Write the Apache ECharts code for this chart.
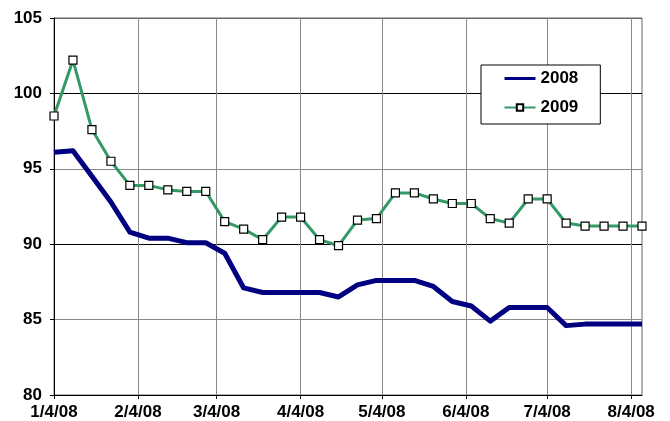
<!DOCTYPE html>
<html>
<head>
<meta charset="utf-8">
<script src="https://cdn.jsdelivr.net/npm/echarts@6/dist/echarts.min.js"></script>
<style>
  html, body { margin: 0; padding: 0; background: #fff; }
  #chart { width: 670px; height: 421px; }
</style>
</head>
<body>
<div id="chart"></div>
<script>
// Weekly observation dates (2008 calendar, Friday readings)
var weekDates = [
  '2008-01-04', '2008-01-11', '2008-01-18', '2008-01-25',
  '2008-02-01', '2008-02-08', '2008-02-15', '2008-02-22', '2008-02-29',
  '2008-03-07', '2008-03-14', '2008-03-21', '2008-03-28',
  '2008-04-04', '2008-04-11', '2008-04-18', '2008-04-25',
  '2008-05-02', '2008-05-09', '2008-05-16', '2008-05-23', '2008-05-30',
  '2008-06-06', '2008-06-13', '2008-06-20', '2008-06-27',
  '2008-07-04', '2008-07-11', '2008-07-18', '2008-07-25',
  '2008-08-01', '2008-08-08'
];

var values2008 = [
  96.1, 96.2, 94.5, 92.8, 90.8, 90.4, 90.4, 90.1, 90.1, 89.4, 87.1, 86.8,
  86.8, 86.8, 86.8, 86.5, 87.3, 87.6, 87.6, 87.6, 87.2, 86.2, 85.9, 84.9,
  85.8, 85.8, 85.8, 84.6, 84.7, 84.7, 84.7, 84.7
];

var values2009 = [
  98.5, 102.2, 97.6, 95.5, 93.9, 93.9, 93.6, 93.5, 93.5, 91.5, 91.0, 90.3,
  91.8, 91.8, 90.3, 89.9, 91.6, 91.7, 93.4, 93.4, 93.0, 92.7, 92.7, 91.7,
  91.4, 93.0, 93.0, 91.4, 91.2, 91.2, 91.2, 91.2
];

// Month ticks on the 4th of each month, with their labels
var monthTicks = [
  '2008-01-04', '2008-02-04', '2008-03-04', '2008-04-04',
  '2008-05-04', '2008-06-04', '2008-07-04', '2008-08-04'
];
var monthLabels = ['1/4/08', '2/4/08', '3/4/08', '4/4/08', '5/4/08', '6/4/08', '7/4/08', '8/4/08'];

var yTicks = [80, 85, 90, 95, 100, 105];

// Day offsets from the first observation, so the axis is linear in time
function dayNum(s) {
  var p = s.split('-');
  return Math.round((Date.UTC(+p[0], +p[1] - 1, +p[2]) - Date.UTC(2008, 0, 4)) / 86400000);
}

function pairs(vals) {
  return weekDates.map(function (d, i) { return [dayNum(d), vals[i]]; });
}

var tickDays = monthTicks.map(dayNum);

var labelFont = {
  color: '#000',
  fontFamily: '"Liberation Sans", Arial, sans-serif',
  fontWeight: 'bold',
  fontSize: 17
};

var chart = echarts.init(document.getElementById('chart'), null, { renderer: 'canvas' });

chart.setOption({
  animation: false,
  backgroundColor: '#fff',
  grid: {
    left: 54, right: 28, top: 18, bottom: 24,
    show: true, borderColor: '#666', borderWidth: 1
  },
  legend: {
    orient: 'vertical',
    left: 481, top: 65,
    backgroundColor: '#fff',
    borderColor: '#000',
    borderWidth: 1,
    borderRadius: 0,
    padding: [5, 22, 8, 22],
    itemGap: 12,
    itemWidth: 31,
    itemHeight: 8,
    textStyle: labelFont,
    data: [
      { name: '2008', lineStyle: { width: 3 }, itemStyle: { opacity: 0 } },
      { name: '2009', lineStyle: { width: 2 } }
    ]
  },
  xAxis: {
    type: 'value',
    min: 0,
    max: dayNum('2008-08-08'),
    axisLine: { show: true, onZero: false, lineStyle: { color: '#000', width: 1 } },
    axisTick: { show: true, length: 4, lineStyle: { color: '#000' }, customValues: tickDays },
    axisLabel: {
      customValues: tickDays,
      margin: 9,
      hideOverlap: false,
      formatter: function (v) {
        var i = tickDays.indexOf(Math.round(v));
        return i >= 0 ? monthLabels[i] : '';
      },
      color: labelFont.color, fontFamily: labelFont.fontFamily,
      fontWeight: labelFont.fontWeight, fontSize: labelFont.fontSize
    },
    splitLine: { show: true, lineStyle: { color: '#888', width: 1 } }
  },
  yAxis: {
    type: 'value',
    min: 80, max: 105, interval: 5,
    axisLine: { show: true, lineStyle: { color: '#000', width: 1 } },
    axisTick: { show: true, length: 4, lineStyle: { color: '#000' } },
    axisLabel: {
      margin: 12,
      formatter: function (v) { return yTicks.indexOf(v) >= 0 ? String(v) : ''; },
      color: labelFont.color, fontFamily: labelFont.fontFamily,
      fontWeight: labelFont.fontWeight, fontSize: labelFont.fontSize
    },
    splitLine: {
      show: true,
      lineStyle: { color: ['#000', '#888', '#000', '#888', '#000', '#666'], width: 1 }
    }
  },
  series: [
    {
      name: '2008',
      type: 'line',
      data: pairs(values2008),
      symbol: 'none',
      showSymbol: false,
      lineStyle: { color: '#000080', width: 5, join: 'round' },
      itemStyle: { color: '#000080' },
      z: 3
    },
    {
      name: '2009',
      type: 'line',
      data: pairs(values2009),
      symbol: 'rect',
      symbolSize: 8,
      showSymbol: true,
      lineStyle: { color: '#339966', width: 3 },
      itemStyle: { color: '#fff', borderColor: '#000', borderWidth: 1.2 },
      z: 4
    }
  ]
});
</script>
</body>
</html>
